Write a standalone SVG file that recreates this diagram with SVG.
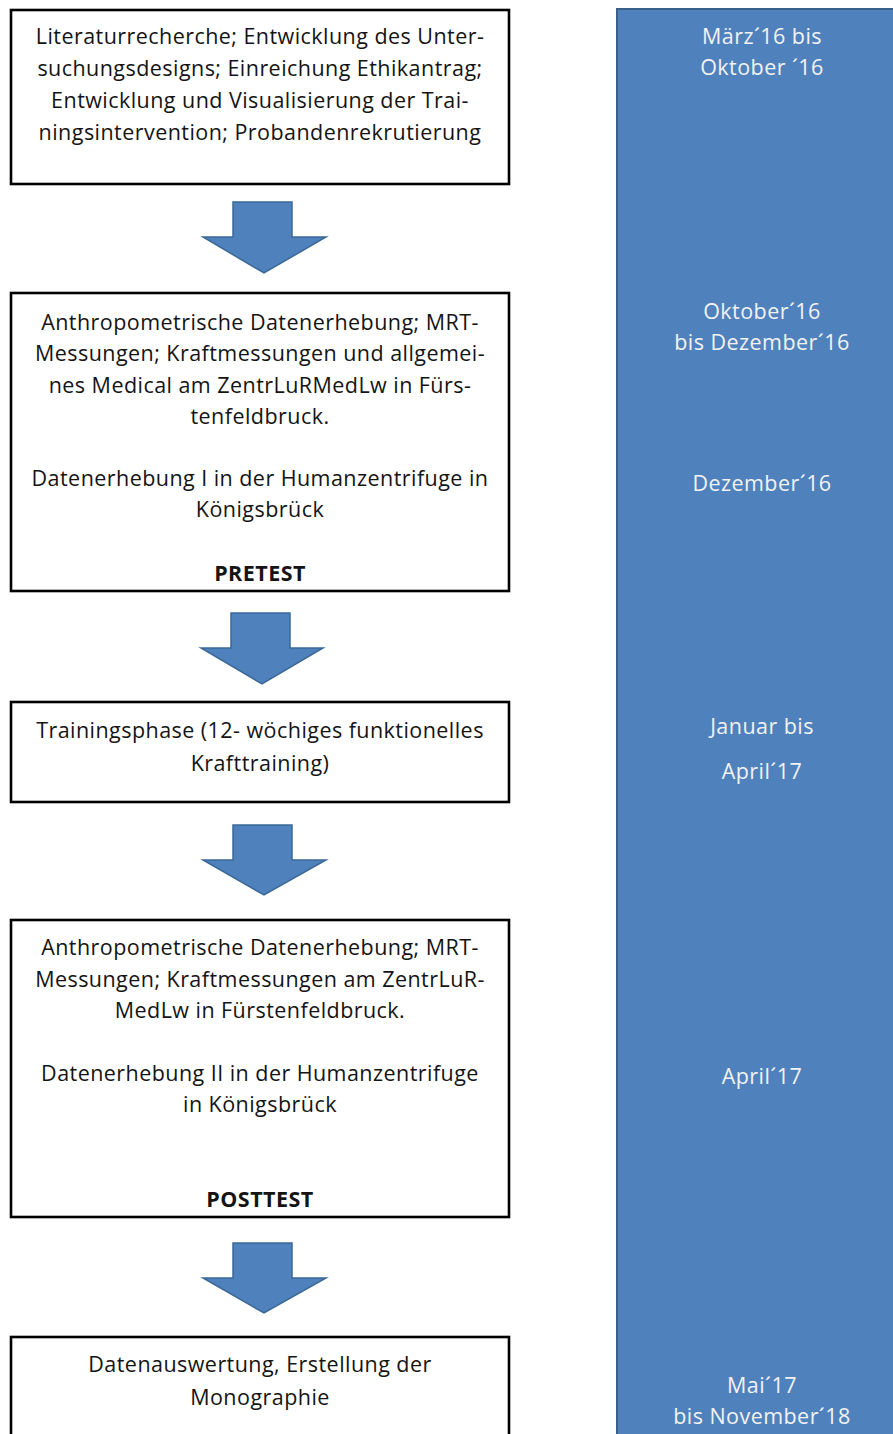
<svg xmlns="http://www.w3.org/2000/svg" width="893" height="1434" viewBox="0 0 893 1434">
<style>
.box{fill:#ffffff;stroke:#000000;stroke-width:2.6}
.t{font-family:"Open Sans","Liberation Sans",sans-serif;font-size:21.5px;letter-spacing:0.45px;fill:#141414;text-anchor:middle}
.b{font-weight:bold}
.w{font-family:"Open Sans","Liberation Sans",sans-serif;font-size:21.5px;letter-spacing:0.45px;fill:#f2f2f2;text-anchor:middle}
.arr{fill:#4F81BD;stroke:#3B6896;stroke-width:1.5;stroke-linejoin:miter}
</style>
<rect width="893" height="1434" fill="#ffffff"/>
<g id="timeline">
<rect x="617" y="9" width="290" height="1440" fill="#4F81BD" stroke="#3A5F8B" stroke-width="2"/>
<text class="w" x="762" y="44">März´16 bis</text>
<text class="w" x="762" y="75">Oktober ´16</text>
<text class="w" x="762" y="319">Oktober´16</text>
<text class="w" x="762" y="350">bis Dezember´16</text>
<text class="w" x="762" y="491">Dezember´16</text>
<text class="w" x="762" y="734">Januar bis</text>
<text class="w" x="762" y="779">April´17</text>
<text class="w" x="762" y="1084">April´17</text>
<text class="w" x="762" y="1393">Mai´17</text>
<text class="w" x="762" y="1424">bis November´18</text>
</g>
<g id="node1">
<rect class="box" x="11" y="10" width="498" height="174"/>
<text class="t" x="260" y="44">Literaturrecherche; Entwicklung des Unter-</text>
<text class="t" x="260" y="76">suchungsdesigns; Einreichung Ethikantrag;</text>
<text class="t" x="260" y="108">Entwicklung und Visualisierung der Trai-</text>
<text class="t" x="260" y="140">ningsintervention; Probandenrekrutierung</text>
</g>
<g id="node2">
<rect class="box" x="11" y="293" width="498" height="298"/>
<text class="t" x="260" y="330">Anthropometrische Datenerhebung; MRT-</text>
<text class="t" x="260" y="361">Messungen; Kraftmessungen und allgemei-</text>
<text class="t" x="260" y="393">nes Medical am ZentrLuRMedLw in Fürs-</text>
<text class="t" x="260" y="424">tenfeldbruck.</text>
<text class="t" x="260" y="486">Datenerhebung I in der Humanzentrifuge in</text>
<text class="t" x="260" y="517">Königsbrück</text>
<text class="t b" x="260" y="581">PRETEST</text>
</g>
<g id="node3">
<rect class="box" x="11" y="702" width="498" height="100"/>
<text class="t" x="260" y="738">Trainingsphase (12- wöchiges funktionelles</text>
<text class="t" x="260" y="771">Krafttraining)</text>
</g>
<g id="node4">
<rect class="box" x="11" y="920" width="498" height="297"/>
<text class="t" x="260" y="955">Anthropometrische Datenerhebung; MRT-</text>
<text class="t" x="260" y="987">Messungen; Kraftmessungen am ZentrLuR-</text>
<text class="t" x="260" y="1018">MedLw in Fürstenfeldbruck.</text>
<text class="t" x="260" y="1081">Datenerhebung II in der Humanzentrifuge</text>
<text class="t" x="260" y="1112">in Königsbrück</text>
<text class="t b" x="260" y="1207">POSTTEST</text>
</g>
<g id="node5">
<rect class="box" x="11" y="1337" width="498" height="120"/>
<text class="t" x="260" y="1372">Datenauswertung, Erstellung der</text>
<text class="t" x="260" y="1405">Monographie</text>
</g>
<g id="connectors">
<path class="arr" d="M233,202 H292 V237 H326 L264,273 L203,237 H233 Z"/>
<path class="arr" d="M231,613 H290 V648 H323 L262,684 L201,648 H231 Z"/>
<path class="arr" d="M233,825 H292 V860 H326 L264,895 L203,860 H233 Z"/>
<path class="arr" d="M233,1243 H292 V1278 H326 L264,1313 L203,1278 H233 Z"/>
</g>
</svg>
